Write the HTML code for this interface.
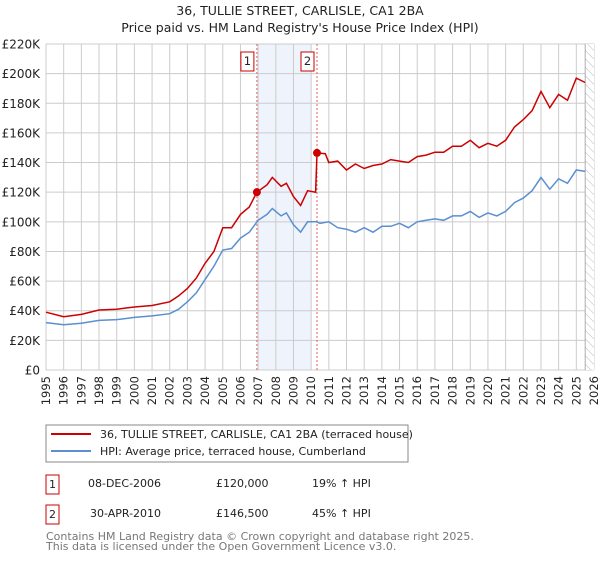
<!DOCTYPE html>
<html><head><meta charset="utf-8"><style>
body{margin:0;background:#fff;font-family:"Liberation Sans","DejaVu Sans",sans-serif;}
svg text{font-family:"DejaVu Sans","Liberation Sans",sans-serif;}
</style></head><body>
<svg id="c" width="600" height="560" viewBox="0 0 600 560">
<defs><pattern id="hatch" width="6" height="6" patternUnits="userSpaceOnUse" patternTransform="rotate(-45)"><rect width="6" height="6" fill="#fff"/><line x1="0" y1="0" x2="0" y2="6" stroke="#bbb" stroke-width="1"/></pattern></defs>
<text x="300" y="15" text-anchor="middle" font-size="12.5" fill="#222">36, TULLIE STREET, CARLISLE, CA1 2BA</text>
<text x="300" y="32" text-anchor="middle" font-size="12.5" fill="#222">Price paid vs. HM Land Registry's House Price Index (HPI)</text>
<g id="plot"></g>
<g>
<rect x="46" y="425" width="362" height="37" fill="#fff" stroke="#888"/>
<line x1="51" y1="434" x2="91" y2="434" stroke="#cc0000" stroke-width="2"/>
<text x="100" y="438" font-size="11" fill="#222">36, TULLIE STREET, CARLISLE, CA1 2BA (terraced house)</text>
<line x1="51" y1="451" x2="91" y2="451" stroke="#5b8fd0" stroke-width="2"/>
<text x="100" y="455" font-size="11" fill="#222">HPI: Average price, terraced house, Cumberland</text>
</g>
<g font-size="11" fill="#222">
<rect x="46" y="475" width="13" height="19" fill="#fff" stroke="#cc0000"/>
<text x="52.5" y="488" text-anchor="middle">1</text>
<text x="88" y="487">08-DEC-2006</text><text x="216" y="487">£120,000</text><text x="312" y="487">19% ↑ HPI</text>
<rect x="46" y="505" width="13" height="19" fill="#fff" stroke="#cc0000"/>
<text x="52.5" y="518" text-anchor="middle">2</text>
<text x="90" y="517">30-APR-2010</text><text x="216" y="517">£146,500</text><text x="312" y="517">45% ↑ HPI</text>
</g>
<text x="46" y="540" font-size="11" fill="#777">Contains HM Land Registry data © Crown copyright and database right 2025.</text>
<text x="46" y="550" font-size="11" fill="#777">This data is licensed under the Open Government Licence v3.0.</text>
</svg>
<script>
const yTicks=[0,20,40,60,80,100,120,140,160,180,200,220];
const years=[1995,1996,1997,1998,1999,2000,2001,2002,2003,2004,2005,2006,2007,2008,2009,2010,2011,2012,2013,2014,2015,2016,2017,2018,2019,2020,2021,2022,2023,2024,2025,2026];
const hpiT=[1995,1996,1997,1998,1999,2000,2001,2002,2002.5,2003,2003.5,2004,2004.5,2005,2005.5,2006,2006.5,2007,2007.5,2007.8,2008.3,2008.6,2009,2009.4,2009.8,2010.3,2010.5,2011,2011.5,2012,2012.5,2013,2013.5,2014,2014.5,2015,2015.5,2016,2016.5,2017,2017.5,2018,2018.5,2019,2019.5,2020,2020.5,2021,2021.5,2022,2022.5,2023,2023.5,2024,2024.5,2025,2025.5];
const hpiV=[32,30.5,31.5,33.5,34,35.5,36.5,38,41,46,52,61,70,81,82,89,93,101,105,109,104,106,98,93,100,100,99,100,96,95,93,96,93,97,97,99,96,100,101,102,101,104,104,107,103,106,104,107,113,116,121,130,122,129,126,135,134];
const propT=[1995,1996,1997,1998,1999,2000,2001,2002,2002.5,2003,2003.5,2004,2004.5,2005,2005.5,2006,2006.5,2006.93,2007.5,2007.8,2008.3,2008.6,2009,2009.4,2009.8,2010.25,2010.33,2010.8,2011,2011.5,2012,2012.5,2013,2013.5,2014,2014.5,2015,2015.5,2016,2016.5,2017,2017.5,2018,2018.5,2019,2019.5,2020,2020.5,2021,2021.5,2022,2022.5,2023,2023.5,2024,2024.5,2025,2025.5];
const propV=[39,36,37.5,40.5,41,42.5,43.5,46,50,55,62,72,80,96,96,105,110,120,125,130,124,126,117,111,121,120,146.5,146,140,141,135,139,136,138,139,142,141,140,144,145,147,147,151,151,155,150,153,151,155,164,169,175,188,177,186,182,197,194];
const saleT=[2006.93,2010.33];
const saleV=[120,146.5];
const NS="http://www.w3.org/2000/svg";
const X0=46,X1=594,Y0=370,Y1=44;
const xs=t=>X0+(t-1995)/(2026-1995)*(X1-X0);
const ys=v=>Y0-v/220*(Y0-Y1);
const g=document.getElementById('plot');
function mk(tag,a){const e=document.createElementNS(NS,tag);for(const k in a)e.setAttribute(k,a[k]);g.appendChild(e);return e;}
let e=mk('rect',{x:xs(saleT[0]),y:Y1,width:xs(2010.0)-xs(saleT[0]),height:Y0-Y1,fill:'#eef3fc'});


years.forEach(y=>{const l=mk('line',{x1:xs(y),x2:xs(y),y1:Y1,y2:Y0,stroke:'#ccc','stroke-width':1});


const t=mk('text',{x:0,y:0,'font-size':11.5,fill:'#222','text-anchor':'end',transform:`translate(${xs(y)+4},${Y0+6}) rotate(-90)`});t.textContent=y;

});
yTicks.forEach(v=>{const l=mk('line',{x1:X0,x2:X1,y1:ys(v),y2:ys(v),stroke:'#ccc','stroke-width':1});


const t=mk('text',{x:X0-6,y:ys(v)+4.5,'font-size':12,fill:'#222','text-anchor':'end'});t.textContent=v===0?'£0':'£'+v+'K';

});
const hx=xs(2025.5);
e=mk('rect',{x:hx,y:Y1,width:X1-hx,height:Y0-Y1,fill:'url(#hatch)'});


mk('line',{x1:hx,x2:hx,y1:Y1,y2:Y0,stroke:'#999','stroke-width':0.8});
saleT.forEach((t,i)=>{const l=mk('line',{x1:xs(t),x2:xs(t),y1:Y1,y2:Y0,stroke:'#e06060','stroke-width':1,'stroke-dasharray':'2,2'});


const r=mk('rect',{x:xs(t)-16,y:52,width:13,height:19,fill:'#fff',stroke:'#cc0000'});


const tx=mk('text',{x:xs(t)-9.5,y:65,'font-size':11.5,'text-anchor':'middle',fill:'#222'});tx.textContent=i+1;});
const path=(T,V)=>T.map((t,i)=>(i?'L':'M')+xs(t).toFixed(1)+','+ys(V[i]).toFixed(1)).join('');
e=mk('path',{d:path(hpiT,hpiV),fill:'none',stroke:'#5b8fd0','stroke-width':1.5});


e=mk('path',{d:path(propT,propV),fill:'none',stroke:'#cc0000','stroke-width':1.5});


saleT.forEach((t,i)=>{const c=mk('circle',{cx:xs(t),cy:ys(saleV[i]),r:4,fill:'#cc0000'});

});
</script>
</body></html>
